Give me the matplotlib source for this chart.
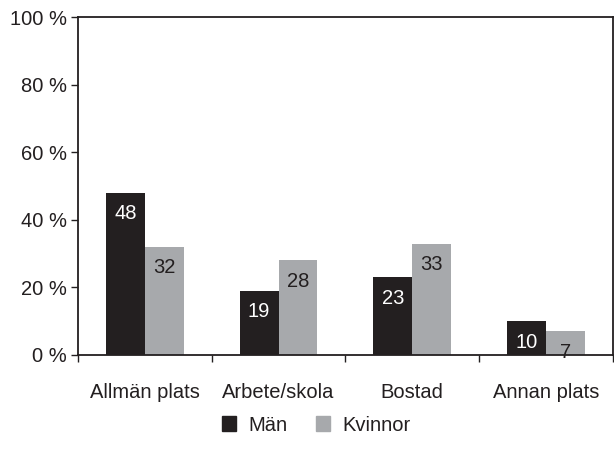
import numpy as np
import matplotlib.pyplot as plt
from matplotlib.patches import Patch
from matplotlib.ticker import FixedLocator, NullFormatter

categories = ["Allmän plats", "Arbete/skola", "Bostad", "Annan plats"]
man = [48, 19, 23, 10]
kvinnor = [32, 28, 33, 7]
yticks = [0, 20, 40, 60, 80, 100]

DARK = "#231f20"
GRAY = "#a7a9ac"
FS = 14.5

plt.rcParams["font.family"] = ["Liberation Sans", "DejaVu Sans"]

fig = plt.figure(figsize=(6.14, 4.58), dpi=100)
ax = fig.add_axes([0.127, 0.225, 0.871, 0.737])

x = np.arange(len(categories))
w = 0.29
b1 = ax.bar(x - w / 2, man, w, color=DARK, label="Män")
b2 = ax.bar(x + w / 2, kvinnor, w, color=GRAY, label="Kvinnor")

# value labels inside the bars, near the top
for bars, vals, col in [(b1, man, "white"), (b2, kvinnor, DARK)]:
    for r, v in zip(bars, vals):
        ax.annotate(str(v), (r.get_x() + r.get_width() / 2, r.get_height()),
                    xytext=(0, -21), textcoords="offset pixels",
                    ha="center", va="center", color=col, fontsize=FS)

ax.set_xlim(-0.5, len(categories) - 0.5)
ax.set_ylim(0, 100)
ax.set_yticks(yticks)
ax.set_yticklabels([f"{t} %" for t in yticks], fontsize=FS, color=DARK)

ax.xaxis.set_major_locator(FixedLocator(np.arange(len(categories) + 1) - 0.5))
ax.xaxis.set_major_formatter(NullFormatter())
ax.xaxis.set_minor_locator(FixedLocator(x))
ax.set_xticklabels(categories, minor=True, fontsize=FS, color=DARK)
ax.tick_params(axis="x", which="minor", length=0, pad=20)
ax.tick_params(axis="x", which="major", length=5, width=1, color=DARK)
ax.tick_params(axis="y", length=5, width=1, color=DARK, pad=3)

for s in ax.spines.values():
    s.set_color(DARK)
    s.set_linewidth(1.3)

handles = [Patch(color=DARK, label="Män"), Patch(color=GRAY, label="Kvinnor")]
fig.legend(handles=handles, loc="center", bbox_to_anchor=(0.515, 0.072), ncol=2,
           frameon=False, fontsize=FS, handlelength=0.7, handleheight=0.7,
           handletextpad=0.6, columnspacing=1.4, labelcolor=DARK)

fig.savefig("out.png", dpi=100)
